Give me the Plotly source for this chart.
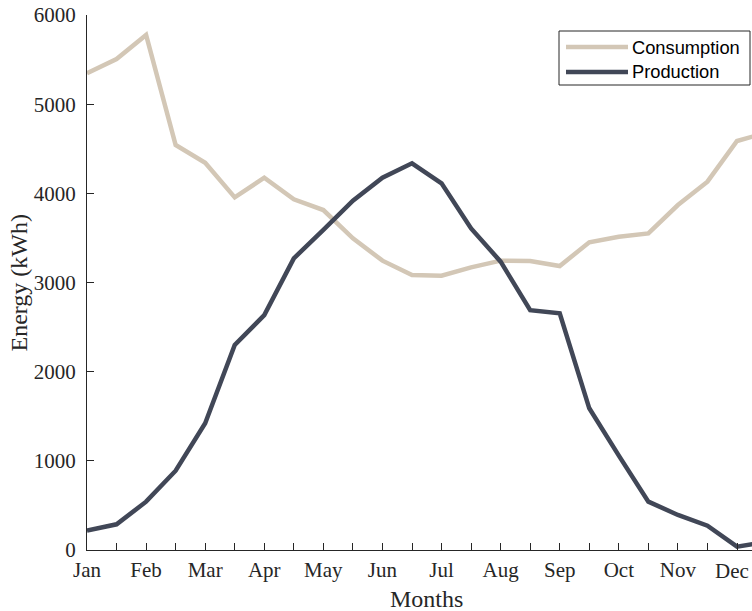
import plotly.graph_objects as go

# Month labels and sampling positions (1st and 15th of each month, in month units)
months = ["Jan", "Feb", "Mar", "Apr", "May", "Jun",
          "Jul", "Aug", "Sep", "Oct", "Nov", "Dec"]
sample_pos = [0.0, 0.5, 1.0, 1.5, 2.0, 2.5, 3.0, 3.5, 4.0, 4.5, 5.0, 5.5,
              6.0, 6.5, 7.0, 7.5, 8.0, 8.5, 9.0, 9.5, 10.0, 10.5, 11.0, 11.5]

# Energy per sample (kWh)
consumption = [5346, 5506, 5776, 4542, 4343, 3955, 4175, 3933, 3813, 3496, 3245, 3084,
               3076, 3170, 3245, 3241, 3185, 3451, 3514, 3551, 3869, 4131, 4587, 4680]
production = [217, 288, 542, 889, 1421, 2299, 2635, 3271, 3589, 3917, 4175, 4337,
              4112, 3607, 3234, 2690, 2654, 1589, 1058, 542, 393, 273, 37, 90]

y_ticks = [0, 1000, 2000, 3000, 4000, 5000, 6000]

C_CONS = "#D3C7B6"
C_PROD = "#414757"
AX = "#262626"
SERIF = "Liberation Serif, Times New Roman, serif"
SANS = "Liberation Sans, Arial, Helvetica, sans-serif"
TICK_SIZE = 21
TITLE_SIZE = 24

W, H = 752, 611
ML, MR, MT, MB = 87, 0, 15, 61
PW, PH = W - ML - MR, H - MT - MB
PX_PER_MONTH = 650 / 11
X_MAX = PW / PX_PER_MONTH


def px(xp):
    return (xp - ML) / PW


def py(yp):
    return (H - MB - yp) / PH


fig = go.Figure()
fig.add_trace(go.Scatter(x=sample_pos, y=consumption, mode="lines", name="Consumption",
                         line=dict(color=C_CONS, width=4.5), showlegend=False))
fig.add_trace(go.Scatter(x=sample_pos, y=production, mode="lines", name="Production",
                         line=dict(color=C_PROD, width=4.5), showlegend=False))

# Legend box drawn in paper space
shapes = [dict(type="rect", xref="paper", yref="paper",
               x0=px(559), x1=px(750), y0=py(85), y1=py(31),
               line=dict(color=AX, width=1), fillcolor="white", layer="above")]
annotations = []
for name, color, row_y in [("Consumption", C_CONS, 47), ("Production", C_PROD, 72)]:
    shapes.append(dict(type="line", xref="paper", yref="paper",
                       x0=px(566), x1=px(628), y0=py(row_y), y1=py(row_y),
                       line=dict(color=color, width=4.5), layer="above"))
    annotations.append(dict(text=name, xref="paper", yref="paper",
                            x=px(630), y=py(row_y), xanchor="left", yanchor="middle",
                            showarrow=False, font=dict(family=SANS, size=18.3, color="black")))

# The last month label sits on the right edge of the plot; keep it inside the page
last = len(months) - 1
annotations.append(dict(text=months[last], xref="paper", yref="paper", x=px(751), y=py(571),
                        xanchor="right", yanchor="middle", showarrow=False,
                        font=dict(family=SERIF, size=TICK_SIZE, color=AX)))

# Axis titles
annotations.append(dict(text="Months", xref="x", yref="paper", x=5.75, y=py(599),
                        xanchor="center", yanchor="middle", showarrow=False,
                        font=dict(family=SERIF, size=TITLE_SIZE, color=AX)))
annotations.append(dict(text="Energy (kWh)", xref="paper", yref="paper", x=px(18), y=0.5,
                        xanchor="center", yanchor="middle", textangle=-90, showarrow=False,
                        font=dict(family=SERIF, size=TITLE_SIZE, color=AX)))

fig.update_layout(
    template="none",
    width=W, height=H,
    margin=dict(l=ML, r=MR, t=MT, b=MB, pad=0),
    paper_bgcolor="white", plot_bgcolor="white",
    shapes=shapes, annotations=annotations,
    xaxis=dict(range=[0, X_MAX], tickmode="array", tickvals=list(range(last)),
               ticktext=months[:last],
               ticks="inside", ticklen=7, tickwidth=1, tickcolor=AX,
               minor=dict(dtick=0.5, tick0=0, ticks="inside", ticklen=7, tickwidth=1,
                          tickcolor=AX, showgrid=False),
               showline=True, linecolor=AX, linewidth=1, showgrid=False, zeroline=False,
               tickfont=dict(family=SERIF, size=TICK_SIZE, color=AX), automargin=False,
               ticklabelstandoff=1),
    yaxis=dict(range=[0, 6000], tickvals=y_ticks, ticks="inside", ticklen=7, tickwidth=1,
               tickcolor=AX, showline=True, linecolor=AX, linewidth=1, showgrid=False,
               zeroline=False, tickfont=dict(family=SERIF, size=TICK_SIZE, color=AX),
               automargin=False, ticklabelstandoff=6),
)

fig.write_html("out.html")
